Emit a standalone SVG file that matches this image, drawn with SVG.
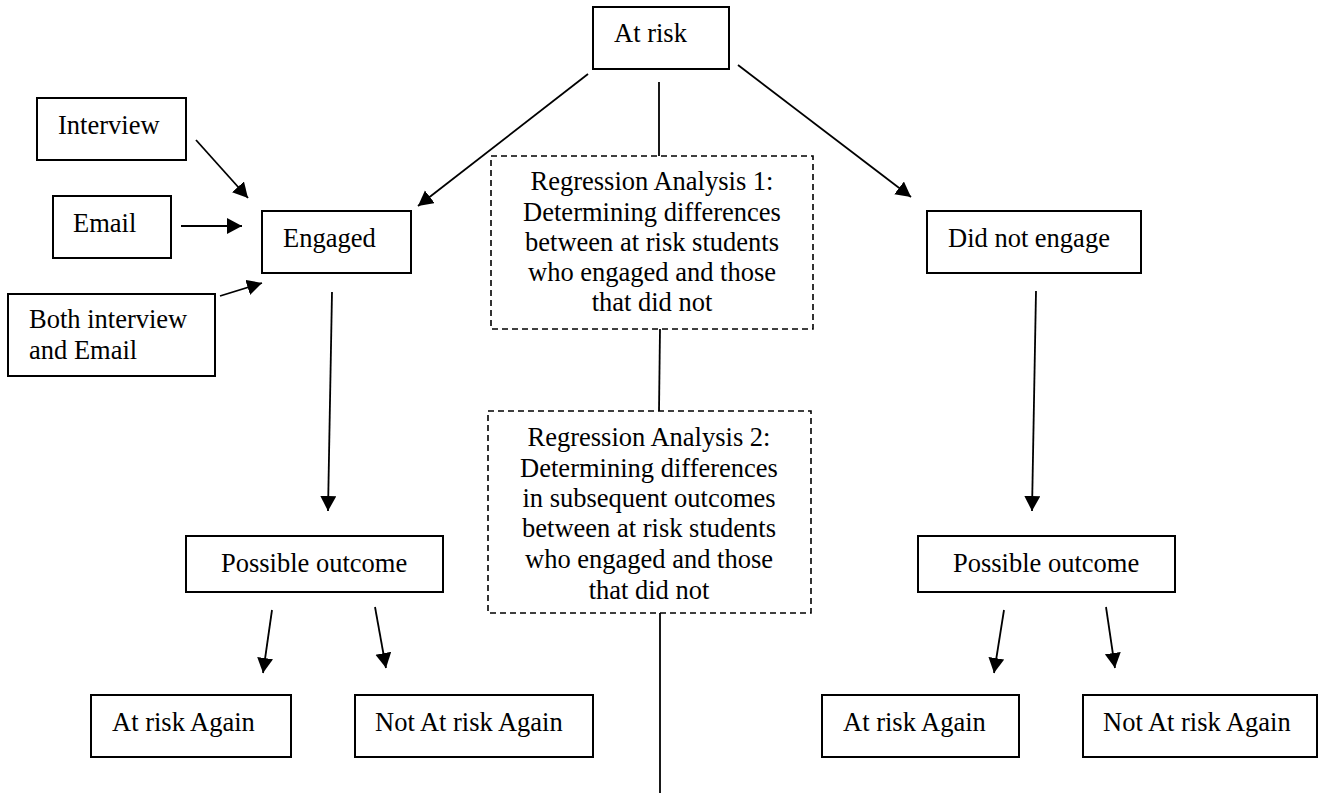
<svg xmlns="http://www.w3.org/2000/svg" width="1330" height="793" viewBox="0 0 1330 793">
<style>
.box{fill:#fff;stroke:#000;stroke-width:2}
.dash{fill:#fff;stroke:#000;stroke-width:1.6;stroke-dasharray:6 4}
text{font-family:"Liberation Serif","Times New Roman",serif;font-size:26.5px;fill:#000}
.c{text-anchor:middle}
.ln{stroke:#000;stroke-width:1.8;fill:none}
.ar{stroke:#000;stroke-width:1.8;fill:none;marker-end:url(#ah)}
</style>
<defs>
<marker id="ah" markerUnits="userSpaceOnUse" markerWidth="17" markerHeight="17" refX="15" refY="8" orient="auto">
<path d="M0,0 L15,8 L0,16 z" fill="#000"/>
</marker>
</defs>
<g id="connectors">
<line class="ar" x1="588" y1="74" x2="418" y2="206"/>
<line class="ar" x1="738" y1="65" x2="911" y2="197"/>
<line class="ln" x1="659" y1="82" x2="659" y2="156"/>
<line class="ln" x1="660" y1="329" x2="659" y2="411"/>
<line class="ln" x1="660" y1="613" x2="660" y2="793"/>
<line class="ar" x1="196" y1="140" x2="248" y2="198"/>
<line class="ar" x1="181" y1="226" x2="242" y2="226"/>
<line class="ar" x1="220" y1="296" x2="262" y2="283"/>
<line class="ar" x1="332" y1="292" x2="328" y2="511"/>
<line class="ar" x1="1036" y1="291" x2="1032" y2="511"/>
<line class="ar" x1="272" y1="610" x2="263" y2="673"/>
<line class="ar" x1="375" y1="607" x2="386" y2="668"/>
<line class="ar" x1="1004" y1="610" x2="994" y2="673"/>
<line class="ar" x1="1106" y1="607" x2="1115" y2="668"/>
</g>
<g id="at-risk"><rect class="box" x="593" y="7" width="136" height="62"/><text x="614" y="42">At risk</text></g>
<g id="interview"><rect class="box" x="37" y="98" width="149" height="62"/><text x="58" y="134">Interview</text></g>
<g id="email"><rect class="box" x="53" y="196" width="118" height="62"/><text x="73" y="232">Email</text></g>
<g id="both"><rect class="box" x="8" y="294" width="207" height="82"/><text x="29" y="328">Both interview</text><text x="29" y="359">and Email</text></g>
<g id="engaged"><rect class="box" x="262" y="211" width="149" height="62"/><text x="283" y="247">Engaged</text></g>
<g id="did-not-engage"><rect class="box" x="927" y="211" width="214" height="62"/><text x="948" y="247">Did not engage</text></g>
<g id="regression-1"><rect class="dash" x="491" y="156" width="322" height="173"/>
<text class="c" x="652" y="190">Regression Analysis 1:</text>
<text class="c" x="652" y="221">Determining differences</text>
<text class="c" x="652" y="251">between at risk students</text>
<text class="c" x="652" y="281">who engaged and those</text>
<text class="c" x="652" y="311">that did not</text></g>
<g id="regression-2"><rect class="dash" x="488" y="411" width="323" height="202"/>
<text class="c" x="649" y="446">Regression Analysis 2:</text>
<text class="c" x="649" y="477">Determining differences</text>
<text class="c" x="649" y="507">in subsequent outcomes</text>
<text class="c" x="649" y="537">between at risk students</text>
<text class="c" x="649" y="568">who engaged and those</text>
<text class="c" x="649" y="599">that did not</text></g>
<g id="outcome-left"><rect class="box" x="186" y="536" width="257" height="56"/><text x="221" y="572">Possible outcome</text></g>
<g id="outcome-right"><rect class="box" x="918" y="536" width="257" height="56"/><text x="953" y="572">Possible outcome</text></g>
<g id="again-left"><rect class="box" x="91" y="695" width="200" height="62"/><text x="112" y="731">At risk Again</text></g>
<g id="not-again-left"><rect class="box" x="355" y="695" width="238" height="62"/><text x="375" y="731">Not At risk Again</text></g>
<g id="again-right"><rect class="box" x="822" y="695" width="197" height="62"/><text x="843" y="731">At risk Again</text></g>
<g id="not-again-right"><rect class="box" x="1083" y="695" width="234" height="62"/><text x="1103" y="731">Not At risk Again</text></g>
</svg>
